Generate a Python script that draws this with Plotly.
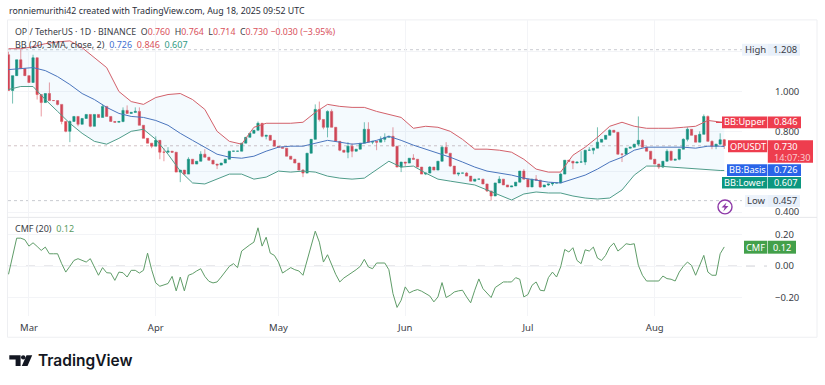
import pandas as pd
import plotly.graph_objects as go

first_day = "2025-02-24"
closes = [1.005,1.079,1.158,1.114,1.079,1.045,1.168,0.985,0.945,0.990,
0.955,0.955,0.936,0.851,0.802,0.851,0.876,0.837,0.866,0.886,
0.827,0.886,0.871,0.926,0.876,0.851,0.847,0.851,0.906,0.891,
0.896,0.901,0.832,0.767,0.743,0.728,0.757,0.698,0.698,0.703,
0.698,0.599,0.609,0.589,0.663,0.639,0.653,0.688,0.673,0.658,
0.639,0.634,0.644,0.663,0.703,0.703,0.703,0.743,0.772,0.792,
0.807,0.842,0.777,0.782,0.757,0.728,0.723,0.718,0.678,0.663,
0.644,0.609,0.594,0.693,0.762,0.911,0.861,0.822,0.901,0.822,
0.752,0.708,0.698,0.728,0.703,0.713,0.743,0.812,0.748,0.752,
0.748,0.762,0.772,0.777,0.728,0.624,0.649,0.644,0.668,0.663,
0.624,0.589,0.594,0.624,0.609,0.653,0.723,0.693,0.629,0.589,
0.594,0.594,0.579,0.554,0.564,0.564,0.540,0.505,0.480,0.545,
0.564,0.535,0.525,0.530,0.549,0.604,0.564,0.525,0.564,0.559,
0.525,0.535,0.540,0.545,0.545,0.589,0.658,0.653,0.644,0.649,
0.649,0.708,0.708,0.718,0.748,0.762,0.782,0.807,0.797,0.688,
0.688,0.718,0.723,0.738,0.757,0.723,0.703,0.663,0.639,0.624,
0.653,0.703,0.658,0.663,0.713,0.762,0.812,0.782,0.748,0.787,
0.876,0.752,0.728,0.738,0.760,0.730]
first_open = 1.183
high_wicks = {0:1.198,3:1.208,6:1.183,10:1.045,13:0.921,15:0.856,23:0.936,28:0.921,29:0.931,31:0.921,32:0.921,
36:0.777,38:0.718,39:0.723,44:0.673,47:0.703,48:0.713,61:0.851,72:0.614,75:0.936,76:0.950,78:0.906,79:0.911,
80:0.822,83:0.748,84:0.743,87:0.847,88:0.847,91:0.777,92:0.792,94:0.822,99:0.688,103:0.629,106:0.728,107:0.748,
112:0.599,120:0.579,126:0.614,129:0.584,135:0.594,140:0.703,142:0.723,144:0.822,147:0.812,150:0.693,154:0.876,
155:0.762,161:0.713,165:0.767,166:0.822,169:0.802,170:0.886,171:0.881,172:0.757,174:0.792,175:0.764}
low_wicks = {1:0.940,7:0.960,8:0.876,12:0.931,13:0.837,14:0.797,15:0.748,17:0.827,20:0.822,28:0.847,35:0.718,
37:0.663,38:0.653,42:0.549,43:0.584,51:0.614,62:0.772,63:0.762,72:0.574,76:0.851,77:0.812,78:0.772,81:0.703,
83:0.668,84:0.673,85:0.703,89:0.738,90:0.708,92:0.748,96:0.599,97:0.629,102:0.584,105:0.609,108:0.624,110:0.579,
117:0.500,118:0.457,130:0.520,131:0.525,132:0.530,133:0.530,136:0.589,138:0.614,141:0.634,143:0.688,150:0.649,
154:0.728,159:0.614,160:0.619,164:0.658,166:0.752,172:0.713,173:0.713,175:0.714}

bb_days = list(range(0, 175, 3)) + [175]
bb_upper = [1.213,1.213,1.223,1.238,1.247,1.252,1.218,1.168,1.119,1.000,0.950,0.936,0.970,0.985,0.990,0.960,0.911,
0.802,0.752,0.738,0.822,0.842,0.842,0.842,0.847,0.896,0.936,0.926,0.921,0.921,0.901,0.886,0.871,0.817,0.827,0.822,
0.802,0.762,0.713,0.713,0.708,0.698,0.663,0.614,0.599,0.599,0.683,0.723,0.772,0.827,0.847,0.827,0.817,0.817,0.817,
0.822,0.827,0.856,0.847,0.846]
bb_basis = [1.109,1.114,1.119,1.104,1.074,1.035,0.990,0.960,0.921,0.891,0.876,0.871,0.856,0.832,0.792,0.757,0.723,
0.688,0.673,0.668,0.678,0.703,0.723,0.728,0.728,0.743,0.757,0.748,0.738,0.743,0.757,0.777,0.757,0.733,0.713,0.693,
0.673,0.649,0.624,0.604,0.594,0.584,0.569,0.559,0.549,0.545,0.564,0.584,0.614,0.649,0.673,0.708,0.723,0.723,0.723,
0.723,0.718,0.728,0.728,0.726]
bb_lower = [1.010,1.025,1.025,0.960,0.901,0.842,0.792,0.752,0.738,0.767,0.802,0.812,0.762,0.688,0.604,0.545,0.540,
0.564,0.589,0.589,0.564,0.574,0.604,0.599,0.604,0.599,0.579,0.569,0.564,0.569,0.609,0.653,0.624,0.629,0.594,0.564,
0.554,0.545,0.535,0.510,0.485,0.460,0.490,0.500,0.495,0.495,0.480,0.470,0.465,0.470,0.510,0.584,0.629,0.629,0.624,
0.619,0.614,0.609,0.607,0.607]

cmf = [-0.052,0.067,0.175,0.175,0.165,0.125,0.146,0.123,0.098,0.119,0.077,0.077,0.077,0.015,-0.038,-0.002,0.035,0.046,
0.035,0.025,0.046,-0.006,-0.058,-0.010,-0.042,-0.044,-0.090,-0.038,-0.042,-0.069,-0.027,-0.027,-0.044,-0.027,0.081,
-0.023,-0.106,-0.127,-0.119,-0.110,-0.065,-0.156,-0.069,-0.156,-0.058,-0.048,-0.031,-0.017,-0.065,-0.096,-0.106,
-0.100,-0.069,-0.038,-0.002,0.015,-0.010,0.094,0.115,0.133,0.150,0.240,0.125,0.181,0.081,0.067,0.025,-0.044,-0.027,
-0.010,-0.023,-0.031,-0.058,0.035,0.129,0.219,0.150,0.025,0.071,0.004,-0.052,-0.100,-0.075,-0.058,-0.042,-0.023,
-0.002,0.042,-0.006,-0.017,0.019,0.019,0.019,-0.023,-0.173,-0.260,-0.215,-0.131,-0.169,-0.156,-0.148,-0.158,-0.173,
-0.188,-0.225,-0.194,-0.104,-0.198,-0.183,-0.163,-0.156,-0.152,-0.194,-0.231,-0.152,-0.081,-0.142,-0.173,-0.198,
-0.135,-0.115,-0.100,-0.100,-0.100,-0.073,-0.083,-0.194,-0.179,-0.121,-0.100,-0.152,-0.156,-0.073,-0.038,-0.069,
-0.006,0.104,0.088,0.115,0.035,0.015,0.102,0.094,0.119,0.050,0.035,0.067,0.119,0.144,0.094,0.115,0.140,0.135,0.140,
0.004,-0.058,-0.094,-0.094,-0.094,-0.094,-0.063,-0.079,-0.083,-0.094,-0.038,-0.002,0.025,0.004,-0.058,0.004,0.067,
-0.038,-0.058,-0.058,0.077,0.12]

month_ticks = ["2025-03-01","2025-04-01","2025-05-01","2025-06-01","2025-07-01","2025-08-01"]
month_labels = ["Mar","Apr","May","Jun","Jul","Aug"]
price_ticks = [1.2, 1.0, 0.8, 0.6, 0.4]
price_labels = ["", "1.000", "0.800", "", "0.400"]
cmf_ticks = [0.20, 0.00, -0.20]
high_price, low_price, last_price = 1.208, 0.457, 0.730

W, H = 825, 385
PX = lambda v: v / W
PY = lambda v: 1 - v / H
RED = "#e0404e"
TXT = "#3a3d46"
FONT = "Noto Sans"

dates = pd.date_range(first_day, periods=len(closes), freq="D")
opens = [first_open] + closes[:-1]
highs = [max(high_wicks.get(i, 0), opens[i], closes[i]) for i in range(len(closes))]
lows = [min(low_wicks.get(i, 9), opens[i], closes[i]) for i in range(len(closes))]
bb_dates = [dates[i] for i in bb_days]

fig = go.Figure()
fig.add_trace(go.Candlestick(x=dates, open=opens, high=highs, low=lows, close=closes, xaxis="x", yaxis="y",
    increasing=dict(line=dict(color="#1b9580", width=0.6), fillcolor="#16907a"),
    decreasing=dict(line=dict(color="#dc5560", width=0.6), fillcolor="#d8404e"),
    whiskerwidth=0, showlegend=False))
fig.add_trace(go.Scatter(x=bb_dates, y=bb_upper, mode="lines", line=dict(color="#d2606a", width=1), showlegend=False))
fig.add_trace(go.Scatter(x=bb_dates, y=bb_lower, mode="lines", line=dict(color="#4f9c8a", width=1),
    fill="tonexty", fillcolor="rgba(33,150,243,0.05)", showlegend=False))
fig.add_trace(go.Scatter(x=bb_dates, y=bb_basis, mode="lines", line=dict(color="#4a75bd", width=1), showlegend=False))
fig.add_trace(go.Scatter(x=dates, y=cmf, mode="lines", xaxis="x2", yaxis="y2",
    line=dict(color="#5f9c68", width=1), showlegend=False))

x0_px, x1_px = 8, 742
day0 = pd.Timestamp(first_day)
px_to_date = lambda p: day0 + pd.Timedelta(days=(p - 8.5) / 4.09)
xr = [px_to_date(x0_px), px_to_date(x1_px)]
grid = "#f3f4f7"
common_x = dict(range=xr, domain=[PX(x0_px), PX(x1_px)], tickmode="array", tickvals=month_ticks, ticktext=month_labels,
                showgrid=True, gridcolor=grid, gridwidth=1, zeroline=False, showline=False, ticks="",
                rangeslider=dict(visible=False))
fig.update_layout(
    width=W, height=H, margin=dict(l=0, r=0, t=0, b=0), paper_bgcolor="white", plot_bgcolor="white",
    font=dict(family=FONT, size=9.5, color=TXT), boxgap=0.22, showlegend=False,
    xaxis=dict(common_x, showticklabels=False, anchor="y"),
    xaxis2=dict(common_x, anchor="y2", showticklabels=True, ticklabelstandoff=4, tickfont=dict(size=9.5, color=TXT)),
    yaxis=dict(domain=[PY(218), PY(20)], range=[0.3762, 1.3564], side="right", anchor="x", tickmode="array",
               tickvals=price_ticks, ticktext=price_labels, ticklabelstandoff=32, ticks="",
               showgrid=True, gridcolor=grid, zeroline=False, tickfont=dict(size=9.5, color=TXT)),
    yaxis2=dict(domain=[PY(318), PY(219)], range=[-0.316, 0.3025], side="right", anchor="x2", tickmode="array",
                tickvals=cmf_ticks, ticktext=["0.20", "0.00", "\u22120.20"], ticklabelstandoff=32, ticks="",
                showgrid=True, gridcolor=grid, zeroline=False, tickfont=dict(size=9.5, color=TXT)),
)

shapes, notes = [], []
def box(x0, x1, y0, y1, color, line=None):
    shapes.append(dict(type="rect", xref="paper", yref="paper", x0=PX(x0), x1=PX(x1), y0=PY(y1), y1=PY(y0),
                       fillcolor=color, line=dict(color=line or color, width=0), layer="above"))
def text(x, y, s, size=9.5, color=TXT, anchor="left", family=FONT, weight=None):
    f = dict(family=family, size=size, color=color)
    if weight: f["weight"] = weight
    notes.append(dict(xref="paper", yref="paper", x=PX(x), y=PY(y), text=s, showarrow=False, xanchor=anchor,
                      yanchor="middle", font=f, xshift=0, yshift=0, borderpad=0))

# frame and pane separator
shapes.append(dict(type="rect", xref="paper", yref="paper", x0=PX(7.5), x1=PX(817), y0=PY(339), y1=PY(20),
                   line=dict(color="#eeeff2", width=1), layer="below"))
shapes.append(dict(type="line", xref="paper", yref="paper", x0=PX(7.5), x1=PX(817), y0=PY(218.5), y1=PY(218.5),
                   line=dict(color="#e6e7ea", width=1), layer="below"))
# reference lines
for val, col in [(high_price, "#c9cbd1"), (low_price, "#c9cbd1"), (last_price, "#d3c4c6")]:
    shapes.append(dict(type="line", xref="paper", yref="y", x0=PX(x0_px), x1=PX(x1_px), y0=val, y1=val,
                       line=dict(color=col, width=1, dash="dot"), layer="below"))
shapes.append(dict(type="line", xref="paper", yref="y2", x0=PX(x0_px), x1=PX(767), y0=0, y1=0,
                   line=dict(color="#cfd1d6", width=1, dash="dash"), layer="below"))
shapes.append(dict(type="line", xref="paper", yref="y", x0=PX(716), x1=PX(722), y0=0.846, y1=0.846,
                   line=dict(color=RED, width=1), layer="above"))

text(8, 11, "ronniemurithi42 created with TradingView.com, Aug 18, 2025 09:52 UTC", size=8.8, color="#2a2e39")
r = lambda s: f'<span style="color:#d9515c">{s}</span>'
text(14, 32, "OP / TetherUS · 1D · BINANCE\u00a0 O" + r("0.760") + " \u00a0H" + r("0.764") + " \u00a0L" + r("0.714")
     + " \u00a0C" + r("0.730") + " " + r("\u22120.030 (\u22123.95%)"), size=8.8)
text(14, 45, 'BB (20, SMA, close, 2)  <span style="color:#3f6fd0">0.726</span>  '
     '<span style="color:#d9515c">0.846</span>  <span style="color:#2f9a83">0.607</span>', size=9)
text(14, 230, 'CMF (20)  <span style="color:#5a9c62">0.12</span>', size=9)

# right-hand price labels
box(742, 768, 44, 56, "#edf3fb"); box(768, 800, 44, 56, "#e8f0fa")
text(755, 50, "High", anchor="center"); text(785, 50, "1.208", anchor="center")
box(745, 768, 196, 208, "#edf3fb"); box(768, 800, 196, 208, "#e8f0fa")
text(756.5, 202, "Low", anchor="center"); text(785, 202, "0.457", anchor="center")
W2 = "white"
for label, lx, y0, y1, col in [("BB:Upper", 722, 117, 129, "#ee3d4e"), ("BB:Basis", 727, 165, 177, "#2a64e8"),
                               ("BB:Lower", 722, 178, 189.5, "#0c977f")]:
    box(lx, 767.2, y0, y1, col); box(767.8, 801, y0, y1, col)
    val = {"BB:Upper": "0.846", "BB:Basis": "0.726", "BB:Lower": "0.607"}[label]
    text((lx + 767) / 2, (y0 + y1) / 2 - 0.5, label, size=9.2, color=W2, anchor="center")
    text(785, (y0 + y1) / 2 - 0.5, val, size=9.2, color=W2, anchor="center")
box(728, 767.2, 141, 153, "#ee3d4e"); box(767.8, 813, 141, 163.5, "#ee3d4e")
text(747.5, 147, "OPUSDT", size=9.2, color=W2, anchor="center")
text(785, 147, "0.730", size=9.2, color=W2, anchor="center")
text(792, 158, "14:07:30", size=9.2, color="#fbc9cd", anchor="center")
box(744, 767.2, 242, 255, "#43a04a"); box(767.8, 796, 242, 255, "#43a04a")
text(755.5, 248.5, "CMF", size=9.2, color=W2, anchor="center"); text(782, 248.5, "0.12", size=9.2, color=W2, anchor="center")

# lightning badge
shapes.append(dict(type="circle", xref="paper", yref="paper", x0=PX(718), x1=PX(732), y0=PY(215), y1=PY(201),
                   fillcolor="white", line=dict(color="#8e3aa8", width=1.4), layer="above"))
def poly(pts, color):
    path = "M " + " L ".join(f"{PX(a):.5f},{PY(b):.5f}" for a, b in pts) + " Z"
    shapes.append(dict(type="path", xref="paper", yref="paper", path=path, fillcolor=color, line=dict(width=0), layer="above"))
poly([(726.5, 203.5), (721.5, 208.5), (724.7, 208.5), (723.3, 212.5), (728.5, 207), (725.2, 207)], "#8e3aa8")

# TradingView mark and wordmark
poly([(9.3, 357), (20.6, 357), (20.6, 368), (15.6, 368), (15.6, 361.5), (9.3, 361.5)], "#131722")
shapes.append(dict(type="circle", xref="paper", yref="paper", x0=PX(21), x1=PX(25.4), y0=PY(361.4), y1=PY(357),
                   fillcolor="#131722", line=dict(width=0), layer="above"))
poly([(26.5, 357), (32.2, 357), (27.5, 368), (21.8, 368)], "#131722")
text(36.5, 362, "TradingView", size=15.5, color="#131722", family="Inter", weight=600)

fig.update_layout(shapes=shapes, annotations=notes)
fig.write_html("out.html", config={"displayModeBar": False},
               post_script="document.body.style.margin='0';document.documentElement.style.overflow='hidden';")
